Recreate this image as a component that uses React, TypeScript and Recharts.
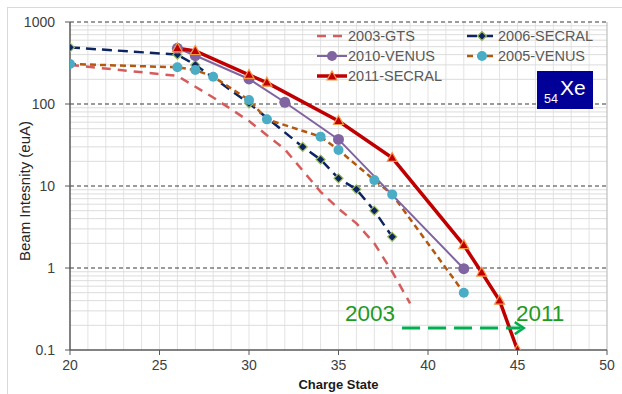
import React from 'react';
import { LineChart, Line, XAxis, YAxis, ReferenceLine, Legend } from 'recharts';

// charge state (q) and beam intensity (euA) per source
const gtsQ = [20, 26, 28, 30, 32, 34, 35, 36, 37, 38, 39];
const gtsI = [300, 220, 120, 62, 28, 8.5, 5.3, 3.5, 2.0, 0.9, 0.37];

const secral06Q = [20, 26, 27, 30, 33, 34, 35, 36, 37, 38];
const secral06I = [490, 400, 300, 102, 30, 21, 12.4, 9.1, 5.0, 2.4];

const venus10Q = [26, 27, 30, 32, 35, 42];
const venus10I = [478, 390, 202, 105, 37, 0.98];

const venus05Q = [20, 26, 27, 28, 30, 31, 34, 35, 37, 38, 42];
const venus05I = [308, 280, 260, 215, 112, 65, 40, 27.5, 11.8, 7.9, 0.5];

const secral11Q = [26, 27, 30, 31, 35, 38, 42, 43, 44, 45];
const secral11I = [478, 443, 226, 182, 62, 22, 1.9, 0.88, 0.4, 0.1];

const xTicks = [20, 25, 30, 35, 40, 45, 50];
const yTicks = [0.1, 1, 10, 100, 1000];
const minorQ = Array.from({ length: 29 }, (_, i) => 21 + i);
const minorI = [0.1, 1, 10, 100].flatMap((d) => [2, 3, 4, 5, 6, 7, 8, 9].map((m) => +(d * m).toPrecision(3)));

const zip = (q: number[], v: number[]) => q.map((x, i) => ({ q: x, v: v[i] }));

const font = '"Liberation Sans", Arial, sans-serif';
const RED = '#c00000';
const GTS = '#d65b5b';
const NAVY = '#0c2461';
const PURPLE = '#8064a2';
const BROWN = '#b4580f';
const CYAN = '#4bacc6';

const triangle = (cx: number, cy: number, key?: any) => (
  <path
    key={key}
    d={`M${cx},${cy - 5.5} L${cx + 5},${cy + 3.5} L${cx - 5},${cy + 3.5} Z`}
    fill={RED}
    stroke="#f79646"
    strokeWidth={1.2}
  />
);
const diamond = (cx: number, cy: number, key?: any) => (
  <path
    key={key}
    d={`M${cx},${cy - 4.5} L${cx + 4.5},${cy} L${cx},${cy + 4.5} L${cx - 4.5},${cy} Z`}
    fill={NAVY}
    stroke="#9bbb59"
    strokeWidth={1.2}
  />
);

const legendItems = [
  { name: '2003-GTS', color: GTS, width: 2.5, dash: '9 7', marker: null },
  { name: '2006-SECRAL', color: NAVY, width: 2.5, dash: '10 6', marker: 'diamond' },
  { name: '2010-VENUS', color: PURPLE, width: 2, dash: undefined, marker: 'purple' },
  { name: '2005-VENUS', color: BROWN, width: 2.5, dash: '6 4', marker: 'cyan' },
  { name: '2011-SECRAL', color: RED, width: 3.5, dash: undefined, marker: 'triangle' },
];

const renderLegend = () => (
  <div
    style={{
      display: 'grid',
      gridTemplateColumns: '150px 150px',
      rowGap: 1,
      fontFamily: font,
      fontSize: 14.5,
      color: '#595959',
    }}
  >
    {legendItems.map((it) => (
      <div key={it.name} style={{ display: 'flex', alignItems: 'center', height: 19 }}>
        <svg width={30} height={14} style={{ marginRight: 1 }}>
          <line x1={0} y1={7} x2={30} y2={7} stroke={it.color} strokeWidth={it.width} strokeDasharray={it.dash} />
          {it.marker === 'diamond' && diamond(15, 7)}
          {it.marker === 'triangle' && triangle(15, 7.5)}
          {it.marker === 'purple' && <circle cx={15} cy={7} r={5} fill={PURPLE} />}
          {it.marker === 'cyan' && <circle cx={15} cy={7} r={5} fill={CYAN} />}
        </svg>
        <span>{it.name}</span>
      </div>
    ))}
  </div>
);

const arrowShape = (p: any) => {
  const { x1, y1, x2, y2 } = p;
  return (
    <g>
      <line x1={x1} y1={y1} x2={x2 - 3} y2={y2} stroke="#00b050" strokeWidth={3} strokeDasharray="18 8" />
      <polyline
        points={`${x2 - 9},${y2 - 6} ${x2},${y2} ${x2 - 9},${y2 + 6}`}
        fill="none"
        stroke="#00b050"
        strokeWidth={2.5}
      />
    </g>
  );
};

export default function App() {
  return (
    <div
      style={{
        position: 'fixed',
        left: 0,
        top: 0,
        width: 622,
        height: 394,
        background: '#fff',
        overflow: 'hidden',
        fontFamily: font,
      }}
    >
      <div
        style={{
          position: 'absolute',
          left: 7,
          top: 7,
          width: 800,
          height: 600,
          borderLeft: '1px solid #d9d9d9',
          borderTop: '1px solid #d9d9d9',
        }}
      />
      <LineChart width={622} height={394} margin={{ top: 22, right: 15, bottom: 0, left: 0 }}>
        {minorQ.map((q) => (
          <ReferenceLine key={'vx' + q} x={q} stroke="#e3e3e3" strokeWidth={1} />
        ))}
        {minorI.map((v) => (
          <ReferenceLine key={'hy' + v} y={v} stroke="#dcdcdc" strokeWidth={1} />
        ))}
        {[1, 10, 100, 1000].map((v) => (
          <ReferenceLine key={'my' + v} y={v} stroke="#3a3a3a" strokeWidth={1.2} strokeDasharray="4 3" />
        ))}
        <ReferenceLine x={50} stroke="#bfbfbf" strokeWidth={1.2} />
        <XAxis
          type="number"
          dataKey="q"
          domain={[20, 50]}
          ticks={xTicks}
          allowDataOverflow
          height={44}
          tickSize={5}
          tickMargin={5}
          axisLine={{ stroke: '#595959', strokeWidth: 1.5 }}
          tickLine={{ stroke: '#595959' }}
          tick={{ fill: '#404040', fontSize: 14, fontFamily: font }}
          label={{
            value: 'Charge State',
            position: 'insideBottom',
            offset: 5,
            style: { fontWeight: 'bold', fontSize: 13, fill: '#1a1a1a', fontFamily: font },
          }}
        />
        <YAxis
          type="number"
          dataKey="v"
          scale="log"
          domain={[0.1, 1000]}
          ticks={yTicks}
          allowDataOverflow
          width={70}
          tickSize={5}
          tickMargin={10}
          tickFormatter={(v: number) => String(v)}
          axisLine={{ stroke: '#595959', strokeWidth: 1.5 }}
          tickLine={{ stroke: '#595959' }}
          tick={{ fill: '#404040', fontSize: 14, fontFamily: font }}
          label={{
            value: 'Beam Intesnity (euA)',
            angle: -90,
            position: 'insideLeft',
            offset: 25,
            dy: 5,
            style: { textAnchor: 'middle', fontSize: 15, fill: '#262626', fontFamily: font },
          }}
        />
        <Legend
          content={renderLegend}
          layout="horizontal"
          verticalAlign="middle"
          align="center"
          wrapperStyle={{ left: 317, top: 26, width: 300, height: 60 }}
        />
        <Line
          data={zip(gtsQ, gtsI)}
          dataKey="v"
          stroke={GTS}
          strokeWidth={2.5}
          strokeDasharray="9 7"
          dot={false}
          isAnimationActive={false}
        />
        <Line
          data={zip(secral06Q, secral06I)}
          dataKey="v"
          stroke={NAVY}
          strokeWidth={2.5}
          strokeDasharray="10 6"
          dot={(p: any) => diamond(p.cx, p.cy, p.index)}
          isAnimationActive={false}
        />
        <Line
          data={zip(venus05Q, venus05I)}
          dataKey="v"
          stroke={BROWN}
          strokeWidth={2.5}
          strokeDasharray="6 4"
          dot={{ r: 5, fill: CYAN, stroke: 'none' }}
          isAnimationActive={false}
        />
        <Line
          data={zip(venus10Q, venus10I)}
          dataKey="v"
          stroke={PURPLE}
          strokeWidth={2}
          dot={{ r: 5.5, fill: PURPLE, stroke: 'none' }}
          isAnimationActive={false}
        />
        <Line
          data={zip(secral11Q, secral11I)}
          dataKey="v"
          stroke={RED}
          strokeWidth={3.5}
          dot={(p: any) => triangle(p.cx, p.cy, p.index)}
          isAnimationActive={false}
        />
        <ReferenceLine
          segment={[
            { x: 38.55, y: 0.185 },
            { x: 45.35, y: 0.185 },
          ]}
          shape={arrowShape}
        />
      </LineChart>
      <div
        style={{
          position: 'absolute',
          left: 537,
          top: 71,
          width: 56,
          height: 38,
          background: '#000099',
          color: '#fff',
        }}
      >
        <span style={{ position: 'absolute', left: 7, top: 21, fontSize: 12.5, lineHeight: '14px' }}>54</span>
        <span style={{ position: 'absolute', left: 23, top: 5, fontSize: 21, lineHeight: '24px' }}>Xe</span>
      </div>
      <div style={{ position: 'absolute', left: 345, top: 301, fontSize: 22.5, color: '#1f9a1f', lineHeight: '26px' }}>
        2003
      </div>
      <div style={{ position: 'absolute', left: 516, top: 301, fontSize: 22.5, color: '#1f9a1f', lineHeight: '26px' }}>
        2011
      </div>
    </div>
  );
}
